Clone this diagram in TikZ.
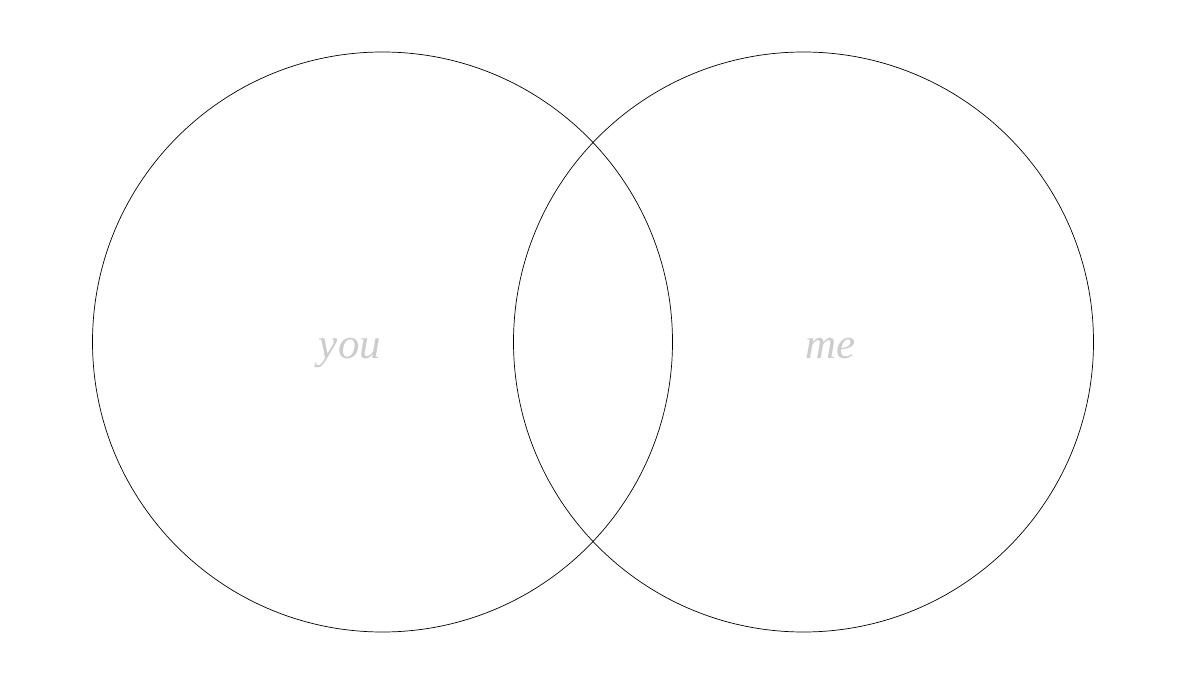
\documentclass[tikz,border=0pt]{standalone}
\usepackage{fontspec}
\setmainfont{Liberation Serif}
\begin{document}
\begin{tikzpicture}[x=1pt,y=-1pt,
  setcircle/.style={draw=black,line width=0.7pt,circle,minimum size=580pt,inner sep=0pt},
  setlabel/.style={text=black!20,font=\itshape\fontsize{43}{43}\selectfont,anchor=base}]
\useasboundingbox[fill=white] (0,0) rectangle (1187,687);
\node[setcircle] (you) at (382.5,342) {};
\node[setcircle] (me) at (803.5,342) {};
\node[setlabel] (youl) at (350,359) {you};
\node[setlabel] (mel) at (831,359) {me};
\end{tikzpicture}
\end{document}
